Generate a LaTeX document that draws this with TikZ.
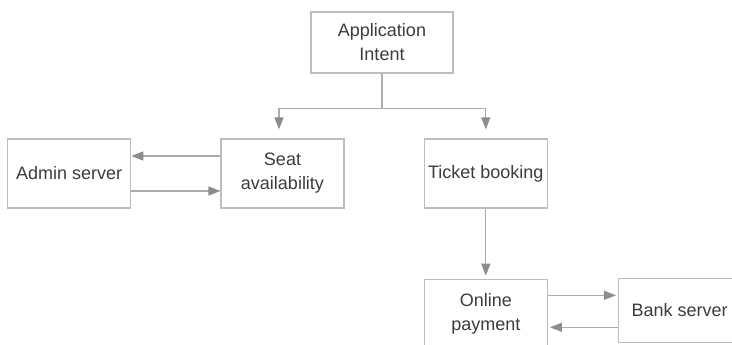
\documentclass[tikz,border=0pt]{standalone}
\usepackage{fontspec}
\setmainfont{Liberation Sans}
\usetikzlibrary{arrows.meta, positioning}
\definecolor{boxgray}{HTML}{BDBDBD}
\definecolor{linegray}{HTML}{ABABAB}
\definecolor{tipgray}{HTML}{8C8C8C}
\definecolor{textgray}{HTML}{3C3C3C}

\begin{document}
\begin{tikzpicture}[
  x=1pt, y=-1pt,
  box/.style={rectangle, draw=boxgray, line width=1.3pt, fill=white, text=textgray, align=center, inner sep=0pt, minimum width=123pt, minimum height=69pt, font=\fontsize{18}{24}\selectfont},
  arrow/.style={draw=linegray, line width=1.3pt, -{Triangle[length=12pt,width=9pt,color=tipgray]}},
  link/.style={draw=linegray, line width=1.3pt}
]
\useasboundingbox (0,0) rectangle (732,345);
\node (seat) [box] at (282.5,173.5) {Seat \\ availability};
\node (admin) [box, left=89pt of seat] {Admin server};
\node (ticket) [box, right=79pt of seat] {Ticket booking};
\node (app) [box, minimum width=142pt, minimum height=61pt] at (382,42.5) {Application \\ Intent};
\node (online) [box, below=70pt of ticket, minimum height=70pt] {Online \\ payment};
\node (bank) [box, right=70pt of online, yshift=4pt, minimum width=122pt, minimum height=64pt] {Bank server};

\draw [link] (app.south) -- ++(0,35) coordinate (split);
\draw [arrow, shorten >=9pt] (split) -| ([xshift=-3.5pt]seat.north);
\draw [arrow, shorten >=9pt] (split) -| (ticket.north);
\draw [arrow] ([yshift=17.5pt]seat.west) -- ([yshift=17.5pt]admin.east);
\draw [arrow] ([yshift=-17.5pt]admin.east) -- ([yshift=-17.5pt]seat.west);
\draw [arrow, shorten >=3pt] (ticket) -- (online);
\draw [arrow, shorten >=2pt] ([yshift=19pt]online.east) -- ([yshift=15pt]bank.west);
\draw [arrow, shorten >=2pt] ([yshift=-17pt]bank.west) -- ([yshift=-13pt]online.east);
\end{tikzpicture}
\end{document}
